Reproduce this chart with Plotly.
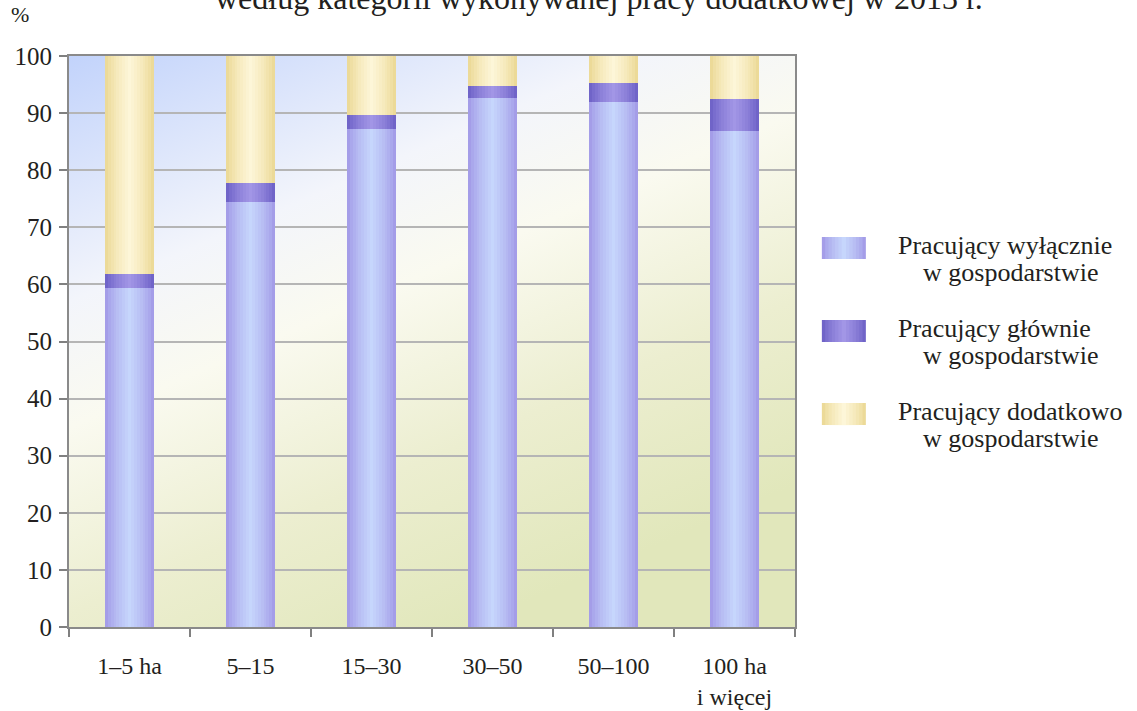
import base64
import plotly.graph_objects as go

# data (percent of persons, by farm area group)
categories = ["1–5 ha", "5–15", "15–30", "30–50", "50–100", "100 ha<br>i więcej"]
only_farm = [59.3, 74.4, 87.2, 92.6, 91.9, 86.8]
mainly_farm = [2.6, 3.4, 2.5, 2.1, 3.3, 5.6]
extra_farm = [38.1, 22.2, 10.3, 5.3, 4.8, 7.6]

series_names = [
    ("Pracujący wyłącznie", "w gospodarstwie"),
    ("Pracujący głównie", "w gospodarstwie"),
    ("Pracujący dodatkowo", "w gospodarstwie"),
]
# (edge colour, centre colour) for a horizontal cylinder-like shading
series_colors = [
    ((164, 157, 232), (198, 214, 252)),
    ((112, 100, 200), (162, 150, 230)),
    ((236, 218, 152), (253, 246, 216)),
]

FONT = "Liberation Serif"
TXT = "#231f20"
BAR_W = 0.4
LAYERS = 9


def mix(a, b, t):
    return "rgb(%d,%d,%d)" % tuple(round(a[i] + (b[i] - a[i]) * t) for i in range(3))


fig = go.Figure()

bases = [0] * len(categories)
for vals, (edge, centre) in zip([only_farm, mainly_farm, extra_farm], series_colors):
    # stack of narrower, lighter bars to fake the gradient shading
    for k in range(LAYERS):
        t = k / (LAYERS - 1)
        w = BAR_W * (1 - 0.92 * t)
        fig.add_trace(go.Bar(
            x=categories, y=vals, base=bases, width=w,
            marker=dict(color=mix(edge, centre, t ** 0.8), line=dict(width=0)),
            showlegend=False, hoverinfo="skip" if k else None,
        ))
    bases = [b + v for b, v in zip(bases, vals)]

# background gradient of the plot area
svg = (
    "<svg xmlns='http://www.w3.org/2000/svg' width='200' height='200' preserveAspectRatio='none'>"
    "<defs><linearGradient id='g' x1='0' y1='0' x2='0.55' y2='1'>"
    "<stop offset='0' stop-color='#c2d3fb'/>"
    "<stop offset='0.33' stop-color='#f3f5fb'/>"
    "<stop offset='0.5' stop-color='#fafaf0'/>"
    "<stop offset='0.75' stop-color='#eceed0'/>"
    "<stop offset='1' stop-color='#e1e7bb'/>"
    "</linearGradient></defs><rect width='200' height='200' fill='url(#g)'/></svg>"
)
fig.add_layout_image(dict(
    source="data:image/svg+xml;base64," + base64.b64encode(svg.encode()).decode(),
    xref="paper", yref="paper", x=0, y=1, sizex=1, sizey=1,
    sizing="stretch", layer="below", xanchor="left", yanchor="top",
))

# custom legend with wide swatches
for i, ((line1, line2), (edge, centre)) in enumerate(zip(series_names, series_colors)):
    dy = i * 0.1454
    n = 7
    for k in range(n):
        t = k / (n - 1)
        half = 0.5 * (1 - 0.9 * t)
        fig.add_shape(type="rect", xref="paper", yref="paper",
                      x0=1.037 + 0.0606 * (0.5 - half), x1=1.037 + 0.0606 * (0.5 + half),
                      y0=0.6445 - dy, y1=0.683 - dy,
                      fillcolor=mix(edge, centre, t ** 0.8), line=dict(width=0))
    fig.add_annotation(xref="paper", yref="paper", x=1.139, y=0.669 - dy,
                       text=line1, showarrow=False, xanchor="left", yanchor="middle",
                       font=dict(size=26, color=TXT, family=FONT))
    fig.add_annotation(xref="paper", yref="paper", x=1.173, y=0.6217 - dy,
                       text=line2, showarrow=False, xanchor="left", yanchor="middle",
                       font=dict(size=26, color=TXT, family=FONT))

fig.add_annotation(xref="paper", yref="paper", x=-0.068, y=1.048, text="%",
                   showarrow=False, xanchor="center", yanchor="bottom",
                   font=dict(size=22, color=TXT, family=FONT))

# title, partly cut off at the top of the page as in the source
fig.add_annotation(xref="paper", yref="paper", x=0.73, y=1.066,
                   text="według kategorii wykonywanej pracy dodatkowej w 2013 r.",
                   showarrow=False, xanchor="center", yanchor="bottom",
                   font=dict(size=32, color=TXT, family=FONT))

fig.update_layout(
    width=1137, height=711,
    margin=dict(l=69, r=342, t=56, b=84),
    barmode="overlay", bargap=0,
    paper_bgcolor="white", plot_bgcolor="rgba(0,0,0,0)",
    showlegend=False,
    font=dict(family=FONT, color=TXT),
)
fig.update_xaxes(
    type="category", range=[-0.5, 5.5], tickson="boundaries", automargin=False,
    ticks="outside", ticklen=8, tickwidth=2, tickcolor="#808080",
    showline=True, linecolor="#8a8a8a", linewidth=2, mirror=True,
    showgrid=False, tickfont=dict(size=24, family=FONT, color=TXT),
    ticklabelstandoff=16,
)
fig.update_yaxes(
    range=[0, 100], dtick=10, ticks="outside", ticklen=8, tickwidth=2, automargin=False,
    tickcolor="#808080", showline=True, linecolor="#8a8a8a", linewidth=2,
    mirror=True, showgrid=True, gridcolor="#b5b5b5", gridwidth=1.5,
    zeroline=False, tickfont=dict(size=25, family=FONT, color=TXT),
    ticklabelstandoff=2,
)

# drop the default page margin so the figure sits at the window's top-left corner
fig.write_html("out.html", config={"displayModeBar": False},
               post_script="document.body.style.margin='0';")
